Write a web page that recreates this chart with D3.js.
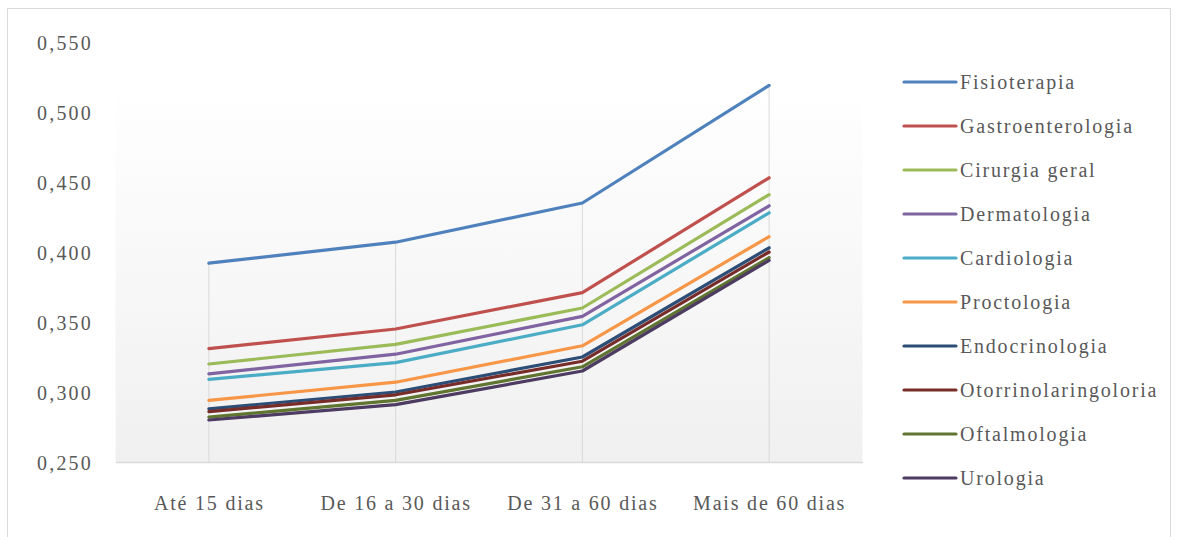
<!DOCTYPE html>
<html>
<head>
<meta charset="utf-8">
<script src="https://cdn.jsdelivr.net/npm/d3@7"></script>
<style>
  html, body { margin: 0; padding: 0; background: #ffffff; }
  svg { display: block; }
  text { font-family: "Liberation Serif", "Times New Roman", serif; fill: #595959; }
</style>
</head>
<body>
<svg id="chart" width="1177" height="537"></svg>
<script>
// Categories (time to appointment)
const categories = ["Até 15 dias", "De 16 a 30 dias", "De 31 a 60 dias", "Mais de 60 dias"];

// Series names and values per category
const seriesNames = [
  "Fisioterapia", "Gastroenterologia", "Cirurgia geral", "Dermatologia", "Cardiologia",
  "Proctologia", "Endocrinologia", "Otorrinolaringoloria", "Oftalmologia", "Urologia"
];
const fisioterapia        = [0.392, 0.407, 0.435, 0.519];
const gastroenterologia   = [0.331, 0.345, 0.371, 0.453];
const cirurgiaGeral       = [0.320, 0.334, 0.360, 0.441];
const dermatologia        = [0.313, 0.327, 0.354, 0.433];
const cardiologia         = [0.309, 0.321, 0.348, 0.428];
const proctologia         = [0.294, 0.307, 0.333, 0.411];
const endocrinologia      = [0.288, 0.300, 0.325, 0.403];
const otorrinolaringologia= [0.286, 0.298, 0.322, 0.400];
const oftalmologia        = [0.282, 0.294, 0.318, 0.396];
const urologia            = [0.280, 0.291, 0.315, 0.394];

const seriesValues = [
  fisioterapia, gastroenterologia, cirurgiaGeral, dermatologia, cardiologia,
  proctologia, endocrinologia, otorrinolaringologia, oftalmologia, urologia
];
const seriesColors = [
  "#4F81BD", "#C0504D", "#9BBB59", "#8064A2", "#4BACC6",
  "#F79646", "#2C4D75", "#772C2A", "#5F7530", "#4D3B62"
];

// Value axis ticks
const yTicks = [0.25, 0.30, 0.35, 0.40, 0.45, 0.50, 0.55];

const svg = d3.select("#chart");

// Chart frame
svg.append("rect")
  .attr("x", 7.5).attr("y", 8.5)
  .attr("width", 1163).attr("height", 540)
  .attr("fill", "#ffffff")
  .attr("stroke", "#d9d9d9").attr("stroke-width", 1);

const plot = { left: 115.5, right: 862.5, top: 42, bottom: 462 };

const x = d3.scalePoint().domain(categories).range([plot.left, plot.right]).padding(0.5);
const y = d3.scaleLinear().domain([0.25, 0.55]).range([plot.bottom, plot.top]);

// Plot background gradient
const defs = svg.append("defs");
const grad = defs.append("linearGradient")
  .attr("id", "plotBg").attr("x1", 0).attr("y1", 0).attr("x2", 0).attr("y2", 1);
grad.append("stop").attr("offset", "0%").attr("stop-color", "#ffffff");
grad.append("stop").attr("offset", "10%").attr("stop-color", "#ffffff");
grad.append("stop").attr("offset", "100%").attr("stop-color", "#f0f0f0");

svg.append("rect")
  .attr("x", plot.left).attr("y", plot.top)
  .attr("width", plot.right - plot.left).attr("height", plot.bottom - plot.top)
  .attr("fill", "url(#plotBg)");

// Drop lines from the highest series value down to the axis
const maxPerCat = categories.map((c, i) => d3.max(seriesValues, s => s[i]));
svg.append("g").selectAll("line")
  .data(categories)
  .join("line")
  .attr("x1", d => x(d)).attr("x2", d => x(d))
  .attr("y1", (d, i) => y(maxPerCat[i]))
  .attr("y2", plot.bottom)
  .attr("stroke", "#d9d9d9").attr("stroke-width", 1);

// Category axis
const xAxis = svg.append("g")
  .attr("transform", `translate(0,${plot.bottom})`)
  .call(d3.axisBottom(x).tickSize(0).tickPadding(0));
xAxis.select(".domain").attr("stroke", "#d9d9d9").attr("stroke-width", 1.5);
xAxis.selectAll("text")
  .attr("y", 41)
  .attr("dy", "0.35em")
  .style("font-family", "'Liberation Serif', serif")
  .style("font-size", "20px")
  .style("letter-spacing", "1.8px")
  .attr("fill", "#595959");

// Value axis labels
const fmt = v => d3.format(".3f")(v).replace(".", ",");
const yAxis = svg.append("g")
  .attr("transform", `translate(93,0)`)
  .call(d3.axisLeft(y).tickValues(yTicks).tickFormat(fmt).tickSize(0).tickPadding(0));
yAxis.select(".domain").remove();
yAxis.selectAll("text")
  .attr("dy", "0.35em")
  .style("font-family", "'Liberation Serif', serif")
  .style("font-size", "20px")
  .style("letter-spacing", "2.2px")
  .attr("fill", "#595959");

// Series lines
const line = d3.line()
  .x((d, i) => x(categories[i]))
  .y(d => y(d));

svg.append("g").selectAll("path")
  .data(seriesValues)
  .join("path")
  .attr("d", d => line(d))
  .attr("fill", "none")
  .attr("stroke", (d, i) => seriesColors[i])
  .attr("stroke-width", 3.2)
  .attr("stroke-linejoin", "round")
  .attr("stroke-linecap", "round");

// Legend
const legend = svg.append("g").attr("transform", "translate(904,82)");
const item = legend.selectAll("g")
  .data(seriesNames)
  .join("g")
  .attr("transform", (d, i) => `translate(0,${i * 44})`);
item.append("line")
  .attr("x1", 0).attr("x2", 52)
  .attr("stroke", (d, i) => seriesColors[i])
  .attr("stroke-width", 3.2)
  .attr("stroke-linecap", "round");
item.append("text")
  .attr("x", 56)
  .attr("dy", "0.35em")
  .style("font-size", "20px")
  .style("letter-spacing", "1.8px")
  .text(d => d);
</script>
</body>
</html>
